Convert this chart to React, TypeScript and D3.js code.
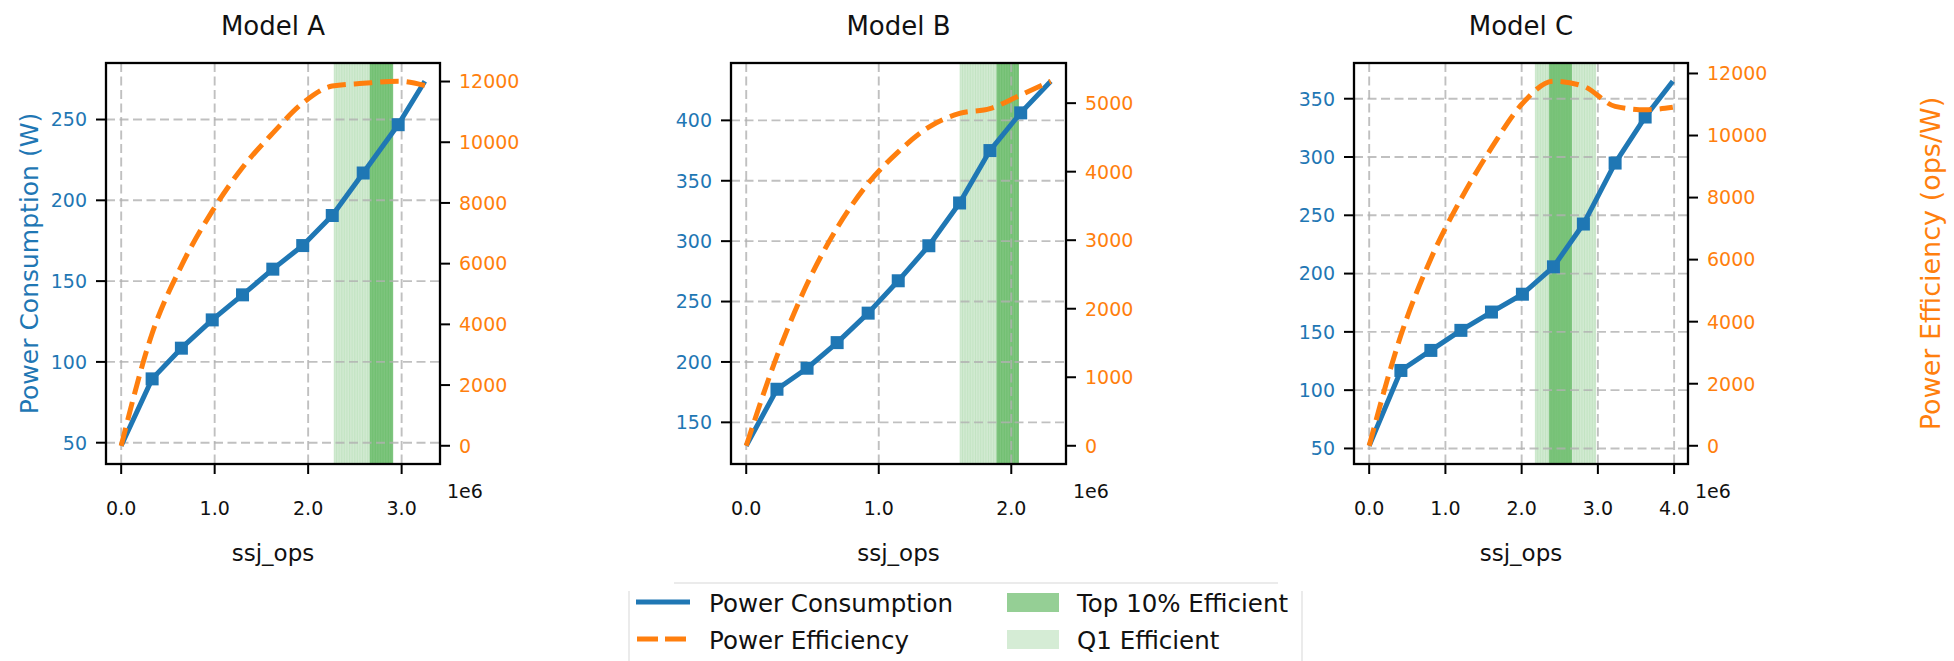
import * as d3 from 'd3';

// ssj_ops in millions, one array per model (idle, 10% ... 100% load)
const modelNames = ['Model A', 'Model B', 'Model C'];

const opsA = [0, 0.331, 0.644, 0.974, 1.298, 1.622, 1.942, 2.258, 2.589, 2.963, 3.248];
const powerA = [48.1, 89.5, 108.5, 126, 141.5, 157.4, 172, 190.6, 216.9, 246.8, 273.7];
const effA = [0, 3700, 5930, 7730, 9170, 10300, 11290, 11850, 11940, 12010, 11870];

const opsB = [0, 0.232, 0.459, 0.686, 0.92, 1.147, 1.378, 1.61, 1.839, 2.071, 2.298];
const powerB = [130.6, 177.4, 194.8, 216, 240.4, 267.2, 296.2, 331.6, 375, 406.2, 432.4];
const effB = [0, 1310, 2360, 3180, 3830, 4290, 4650, 4850, 4920, 5120, 5320];

const opsC = [0, 0.416, 0.809, 1.203, 1.604, 2.01, 2.417, 2.81, 3.226, 3.62, 3.983];
const powerC = [52.3, 116.9, 134.1, 151.3, 167, 182.3, 205.8, 242.5, 294.8, 334.3, 365];
const effC = [0, 3560, 6030, 7950, 9600, 11030, 11750, 11590, 10940, 10830, 10910];

// shaded ssj_ops ranges [from, to] in millions
const q1BandA = [2.276, 2.909];
const top10BandA = [2.66, 2.909];
const q1BandB = [1.612, 2.058];
const top10BandB = [1.89, 2.058];
const q1BandC = [2.177, 2.977];
const top10BandC = [2.361, 2.659];

const xTicksA = [0, 1, 2, 3];
const xTicksB = [0, 1, 2];
const xTicksC = [0, 1, 2, 3, 4];
const powerTicksA = [50, 100, 150, 200, 250];
const powerTicksB = [150, 200, 250, 300, 350, 400];
const powerTicksC = [50, 100, 150, 200, 250, 300, 350];
const effTicksA = [0, 2000, 4000, 6000, 8000, 10000, 12000];
const effTicksB = [0, 1000, 2000, 3000, 4000, 5000];
const effTicksC = [0, 2000, 4000, 6000, 8000, 10000, 12000];

const legendLabels = ['Power Consumption', 'Power Efficiency', 'Top 10% Efficient', 'Q1 Efficient'];

const BLUE = '#1f77b4';
const ORANGE = '#ff7f0e';
const FONT = '"DejaVu Sans", sans-serif';

const panels = [
  { name: modelNames[0], ops: opsA, power: powerA, eff: effA, q1: q1BandA, top10: top10BandA,
    xTicks: xTicksA, pTicks: powerTicksA, eTicks: effTicksA, left: 106, right: 440 },
  { name: modelNames[1], ops: opsB, power: powerB, eff: effB, q1: q1BandB, top10: top10BandB,
    xTicks: xTicksB, pTicks: powerTicksB, eTicks: effTicksB, left: 731, right: 1066 },
  { name: modelNames[2], ops: opsC, power: powerC, eff: effC, q1: q1BandC, top10: top10BandC,
    xTicks: xTicksC, pTicks: powerTicksC, eTicks: effTicksC, left: 1354, right: 1688 },
];

const TOP = 63;
const BOTTOM = 464;

// matplotlib-style 5% margins
const padded = (vals: number[]): [number, number] => {
  const [lo, hi] = d3.extent(vals) as [number, number];
  const m = (hi - lo) * 0.05;
  return [lo - m, hi + m];
};

type PanelDef = typeof panels[number];

const Band = ({ x, range, color, opacity }: { x: d3.ScaleLinear<number, number>; range: number[]; color: string; opacity: number }) => {
  const x0 = x(range[0]);
  const x1 = x(range[1]);
  // thin strips give the streaky look of many stacked spans
  const strips = d3.range(x0, x1, 2.6);
  return (
    <g>
      <rect x={x0} y={TOP} width={x1 - x0} height={BOTTOM - TOP} fill={color} fillOpacity={opacity} />
      {strips.map((s, i) => (
        <line key={i} x1={s} x2={s} y1={TOP} y2={BOTTOM} stroke={color} strokeOpacity={0.08} strokeWidth={1} />
      ))}
    </g>
  );
};

const Panel = ({ p, idx }: { p: PanelDef; idx: number }) => {
  const x = d3.scaleLinear().domain(padded(p.ops)).range([p.left, p.right]);
  const yP = d3.scaleLinear().domain(padded(p.power)).range([BOTTOM, TOP]);
  const yE = d3.scaleLinear().domain(padded(p.eff)).range([BOTTOM, TOP]);

  const powerPts = p.ops.map((o, i) => [o, p.power[i]] as [number, number]);
  const effPts = p.ops.map((o, i) => [o, p.eff[i]] as [number, number]);

  const powerLine = d3.line<[number, number]>().x(d => x(d[0])).y(d => yP(d[1]));
  const effLine = d3.line<[number, number]>().x(d => x(d[0])).y(d => yE(d[1])).curve(d3.curveMonotoneX);

  const cx = (p.left + p.right) / 2;
  const grid = { stroke: '#b0b0b0', strokeOpacity: 0.8, strokeWidth: 1.9, strokeDasharray: '9,4.5' };

  return (
    <g>
      <Band x={x} range={p.q1} color="#2ca02c" opacity={0.22} />
      <Band x={x} range={p.top10} color="#2ca02c" opacity={0.5} />

      {p.xTicks.map(t => (
        <line key={'gx' + t} x1={x(t)} x2={x(t)} y1={TOP} y2={BOTTOM} {...grid} />
      ))}
      {p.pTicks.map(t => (
        <line key={'gy' + t} x1={p.left} x2={p.right} y1={yP(t)} y2={yP(t)} {...grid} />
      ))}

      <path d={powerLine(powerPts) || ''} fill="none" stroke={BLUE} strokeWidth={5} strokeLinejoin="round" />
      {powerPts.slice(1, -1).map((d, i) => (
        <rect key={i} x={x(d[0]) - 6.5} y={yP(d[1]) - 6.5} width={13} height={13} fill={BLUE} />
      ))}
      <path d={effLine(effPts) || ''} fill="none" stroke={ORANGE} strokeWidth={5} strokeDasharray="18.5,8" />

      <rect x={p.left} y={TOP} width={p.right - p.left} height={BOTTOM - TOP} fill="none" stroke="#000" strokeWidth={2.3} />

      {p.xTicks.map(t => (
        <g key={'xt' + t}>
          <line x1={x(t)} x2={x(t)} y1={BOTTOM} y2={BOTTOM + 10} stroke="#000" strokeWidth={2} />
          <text x={x(t)} y={515} textAnchor="middle" fontSize={19} fill="#111">{t.toFixed(1)}</text>
        </g>
      ))}
      <text x={p.right + 7} y={498} fontSize={19} fill="#111">1e6</text>

      {p.pTicks.map(t => (
        <g key={'pt' + t}>
          <line x1={p.left - 10} x2={p.left} y1={yP(t)} y2={yP(t)} stroke="#000" strokeWidth={2} />
          <text x={p.left - 19} y={yP(t)} dy="0.36em" textAnchor="end" fontSize={19} fill={BLUE}>{t}</text>
        </g>
      ))}
      {p.eTicks.map(t => (
        <g key={'et' + t}>
          <line x1={p.right} x2={p.right + 10} y1={yE(t)} y2={yE(t)} stroke="#000" strokeWidth={2} />
          <text x={p.right + 19} y={yE(t)} dy="0.36em" textAnchor="start" fontSize={19} fill={ORANGE}>{t}</text>
        </g>
      ))}

      <text x={cx} y={35} textAnchor="middle" fontSize={26} fill="#111">{p.name}</text>
      <text x={cx} y={561} textAnchor="middle" fontSize={23} fill="#111">ssj_ops</text>

      {idx === 0 && (
        <text transform={`translate(38,${(TOP + BOTTOM) / 2}) rotate(-90)`} textAnchor="middle" fontSize={25} fill={BLUE}>
          Power Consumption (W)
        </text>
      )}
      {idx === panels.length - 1 && (
        <text transform={`translate(1940,${(TOP + BOTTOM) / 2}) rotate(-90)`} textAnchor="middle" fontSize={27} fill={ORANGE}>
          Power Efficiency (ops/W)
        </text>
      )}
    </g>
  );
};

const Legend = () => (
  <g fontSize={24.5} fill="#111">
    <line x1={674} x2={1278} y1={583} y2={583} stroke="#e4e4e4" strokeWidth={1.5} />
    <line x1={629} x2={629} y1={591} y2={661} stroke="#e4e4e4" strokeWidth={1.5} />
    <line x1={1302} x2={1302} y1={591} y2={661} stroke="#e4e4e4" strokeWidth={1.5} />

    <line x1={636} x2={690} y1={602} y2={602} stroke={BLUE} strokeWidth={5} />
    <text x={709} y={611.5}>{legendLabels[0]}</text>
    <line x1={637} x2={688} y1={639} y2={639} stroke={ORANGE} strokeWidth={5} strokeDasharray="21,7" />
    <text x={709} y={648.5}>{legendLabels[1]}</text>

    <rect x={1007} y={593} width={52} height={19} fill="#2ca02c" fillOpacity={0.5} />
    <text x={1077} y={611.5}>{legendLabels[2]}</text>
    <rect x={1007} y={630} width={52} height={19} fill="#2ca02c" fillOpacity={0.2} />
    <text x={1077} y={648.5}>{legendLabels[3]}</text>
  </g>
);

export default function App() {
  return (
    <svg width={1954} height={661} style={{ position: 'absolute', left: 0, top: 0, background: '#fff' }} fontFamily={FONT}>
      <rect width={1954} height={661} fill="#fff" />
      {panels.map((p, i) => <Panel key={p.name} p={p} idx={i} />)}
      <Legend />
    </svg>
  );
}
